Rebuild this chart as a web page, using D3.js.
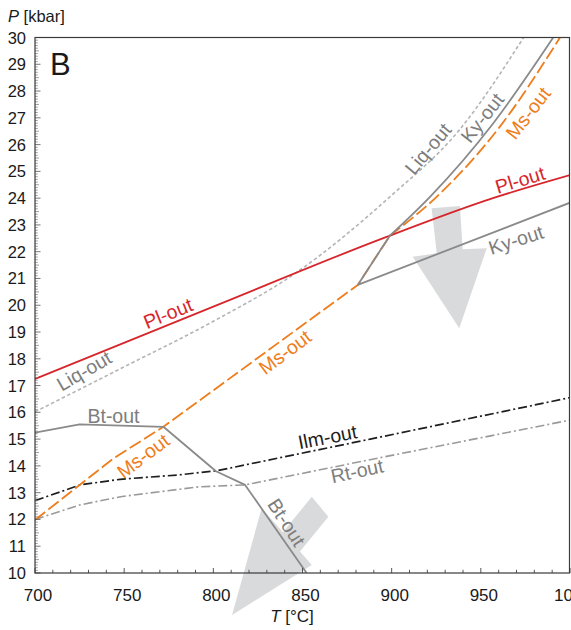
<!DOCTYPE html>
<html>
<head>
<meta charset="utf-8">
<script src="https://cdn.jsdelivr.net/npm/d3@7/dist/d3.min.js"></script>
<style>
  html, body { margin: 0; padding: 0; background: #fff; }
  svg { display: block; font-family: "Liberation Sans", Arial, Helvetica, sans-serif; }
</style>
</head>
<body>
<svg id="chart" width="571" height="630"></svg>
<script>
// Phase-out boundaries in P–T space: [T (°C), P (kbar)]
const plOut      = [[700, 17.25], [800, 19.95], [893.5, 22.46], [956.8, 24.0], [1000, 24.86]];
const liqOut     = [[700, 16.02], [750, 17.7], [800, 19.4], [845, 21.15], [899, 24.05], [938, 26.55], [974, 30]];
const kyOutLow   = [[881, 20.76], [1000, 23.83]];
const kyOutStep  = [[881, 20.76], [899, 22.6]];
const kyOutHigh  = [[899, 22.6], [921.5, 24.05], [957, 26.8], [990.6, 30]];
const msOutLow   = [[700, 11.98], [744, 14.28], [772, 15.46], [881, 20.76], [899, 22.6]];
const msOutHigh  = [[899, 22.6], [925.2, 24.05], [960.7, 26.67], [994.4, 30]];
const btOut      = [[700, 15.24], [725, 15.55], [772, 15.46], [801.5, 13.8], [817.8, 13.29], [852.3, 10.0]];
const ilmOut     = [[700, 12.70], [725.2, 13.29], [747.7, 13.5], [780, 13.66], [802, 13.82], [888, 15.0], [1000, 16.55]];
const rtOut      = [[700, 12.0], [725, 12.54], [748, 12.85], [792, 13.22], [817.8, 13.29], [893, 14.3], [1000, 15.71]];

// Trend arrows (outline vertices in T, P)
const arrowUpper = [[922.4, 23.62], [938.3, 23.71], [939.8, 22.09], [953.3, 22.13], [937.9, 19.14], [911.8, 21.81], [925.3, 21.94]];
const arrowLower = [[855.2, 12.85], [864.5, 12.10], [848.6, 10.80], [855.2, 10.30], [810.5, 8.43], [827.1, 12.42], [839.0, 11.52]];

// Axis ticks
const xTickLabels = [700, 750, 800, 850, 900, 950, 1000];
const yTickLabels = [10, 11, 12, 13, 14, 15, 16, 17, 18, 19, 20, 21, 22, 23, 24, 25, 26, 27, 28, 29, 30];

// Curve labels: text, T, P, rotation, colour key
const curveLabels = [
  ["Pl-out", 774.6, 19.7, -22, "red"],
  ["Pl-out", 972, 24.68, -17, "red"],
  ["Liq-out", 727.5, 17.55, -30, "gray"],
  ["Liq-out", 920.4, 25.84, -50, "gray"],
  ["Ky-out", 950.8, 27.0, -52, "gray"],
  ["Ms-out", 976.5, 27.18, -52, "orange"],
  ["Ky-out", 969.7, 22.44, -18, "gray"],
  ["Ms-out", 840.2, 18.25, -37, "orange"],
  ["Bt-out", 744, 15.86, 0, "gray"],
  ["Ms-out", 760.6, 14.37, -37, "orange"],
  ["Ilm-out", 864, 15.08, -11, "black"],
  ["Rt-out", 880.6, 13.81, -12, "gray"],
  ["Bt-out", 841.1, 11.89, 57, "gray"]
];

const colors = {
  red: "#d7262b",
  orange: "#ee7d1c",
  gray: "#8a8a8a",
  liq: "#b4b4b4",
  black: "#1e1e1e",
  rt: "#9a9a9a",
  arrow: "#d9dadb"
};
const labelColors = { red: "#d7262b", orange: "#ee7d1c", gray: "#7d7d7d", black: "#1e1e1e" };

const svg = d3.select("#chart");
const x = d3.scaleLinear().domain([700, 1000]).range([35, 570]);
const y = d3.scaleLinear().domain([10, 30]).range([573, 37.5]);

svg.append("defs").append("clipPath").attr("id", "plot")
  .append("rect").attr("x", 35).attr("y", 37.5).attr("width", 535).attr("height", 535.5);

// Arrows sit underneath the boundaries
const poly = d3.line().x(d => x(d[0])).y(d => y(d[1]));
[arrowUpper, arrowLower].forEach(a => {
  svg.append("path").attr("d", poly(a) + "Z").attr("fill", colors.arrow);
});

const lines = svg.append("g").attr("clip-path", "url(#plot)");
const lin = d3.line().x(d => x(d[0])).y(d => y(d[1]));
const smooth = d3.line().x(d => x(d[0])).y(d => y(d[1])).curve(d3.curveMonotoneX);

function draw(data, gen, color, width, dash) {
  lines.append("path").attr("d", gen(data))
    .attr("fill", "none").attr("stroke", color).attr("stroke-width", width)
    .attr("stroke-dasharray", dash || null).attr("stroke-linejoin", "round");
}

draw(liqOut, smooth, colors.liq, 1.6, "3.5,2.5");
draw(rtOut, lin, colors.rt, 1.6, "9,3,2,3");
draw(ilmOut, lin, colors.black, 1.7, "9,3,2,3");
draw(msOutLow, lin, colors.orange, 1.8, "13,4");
draw(msOutHigh, smooth, colors.orange, 1.8, "13,4");
draw(plOut, smooth, colors.red, 1.8);
draw(btOut, lin, colors.gray, 1.8);
draw(kyOutLow, lin, colors.gray, 1.8);
draw(kyOutStep, lin, colors.gray, 1.8);
draw(kyOutHigh, smooth, colors.gray, 1.8);

// Ticks (inside the frame)
const axisColor = "#555";
const ticks = svg.append("g");
d3.range(700, 1001, 10).forEach(t => {
  const major = t % 50 === 0;
  ticks.append("line").attr("x1", x(t)).attr("x2", x(t))
    .attr("y1", 573).attr("y2", 573 - (major ? 5 : 3.2))
    .attr("stroke", axisColor).attr("stroke-width", 1);
});
d3.range(100, 301, 1).forEach(k => {
  const p = k / 10;
  const major = k % 10 === 0;
  const half = k % 5 === 0;
  ticks.append("line").attr("x1", 35).attr("x2", 35 + (major ? 5.5 : half ? 4 : 2.8))
    .attr("y1", y(p)).attr("y2", y(p))
    .attr("stroke", major ? "#555" : "#888").attr("stroke-width", 0.8);
});

// Frame
svg.append("rect").attr("x", 35).attr("y", 37.5).attr("width", 534.5).attr("height", 535.5)
  .attr("fill", "none").attr("stroke", "#3a3a3a").attr("stroke-width", 1.2);

// Tick labels
svg.append("g").selectAll("text").data(xTickLabels).join("text")
  .attr("x", d => x(d) + 3).attr("y", 601)
  .attr("text-anchor", "middle").attr("font-size", 17).attr("fill", "#1a1a1a")
  .text(d => d);
svg.append("g").selectAll("text").data(yTickLabels).join("text")
  .attr("x", 26).attr("y", d => y(d) + 6)
  .attr("text-anchor", "end").attr("font-size", 16.5).attr("fill", "#1a1a1a")
  .text(d => d);

// Axis titles
const yt = svg.append("text").attr("x", 8).attr("y", 22).attr("font-size", 16.5).attr("fill", "#1a1a1a");
yt.append("tspan").attr("font-style", "italic").text("P");
yt.append("tspan").text(" [kbar]");
const xt = svg.append("text").attr("x", 292).attr("y", 622).attr("text-anchor", "middle")
  .attr("font-size", 17).attr("fill", "#1a1a1a");
xt.append("tspan").attr("font-style", "italic").text("T");
xt.append("tspan").text(" [°C]");

// Panel letter
svg.append("text").attr("x", 50).attr("y", 75).attr("font-size", 31).attr("fill", "#1a1a1a").text("B");

// Curve labels
svg.append("g").selectAll("text").data(curveLabels).join("text")
  .attr("transform", d => `translate(${x(d[1])},${y(d[2])}) rotate(${d[3]})`)
  .attr("text-anchor", "middle").attr("dy", "0.35em")
  .attr("font-size", 19.5).attr("fill", d => labelColors[d[4]])
  .text(d => d[0]);
</script>
</body>
</html>
